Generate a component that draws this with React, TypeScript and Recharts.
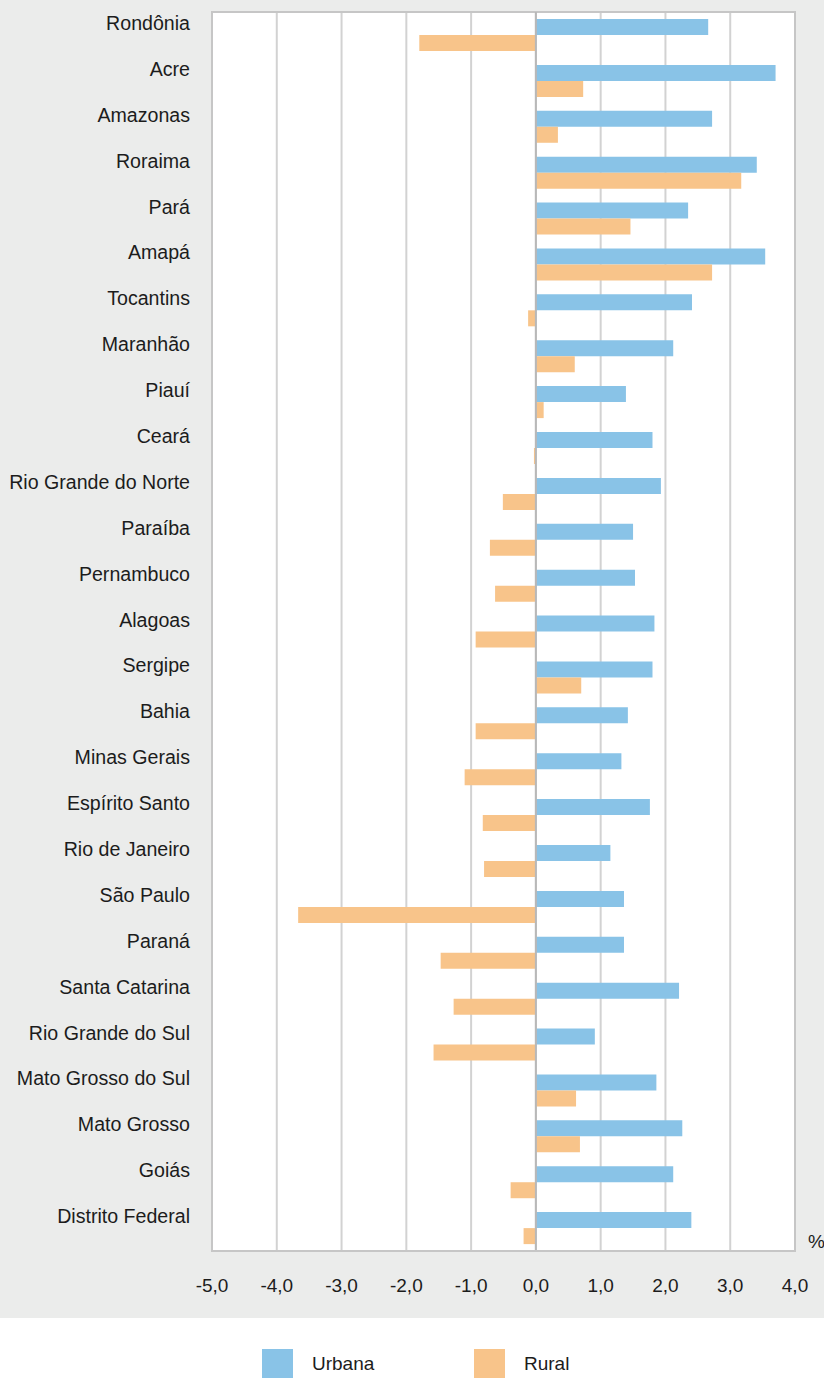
import { BarChart, Bar, XAxis, YAxis, CartesianGrid, ReferenceLine, ReferenceArea, Label } from "recharts";

const estados = [
  "Rondônia", "Acre", "Amazonas", "Roraima", "Pará", "Amapá", "Tocantins",
  "Maranhão", "Piauí", "Ceará", "Rio Grande do Norte", "Paraíba", "Pernambuco",
  "Alagoas", "Sergipe", "Bahia", "Minas Gerais", "Espírito Santo", "Rio de Janeiro",
  "São Paulo", "Paraná", "Santa Catarina", "Rio Grande do Sul", "Mato Grosso do Sul",
  "Mato Grosso", "Goiás", "Distrito Federal"
];

const urbana = [
  2.66, 3.70, 2.72, 3.41, 2.35, 3.54, 2.41, 2.12, 1.39, 1.80, 1.93, 1.50, 1.53,
  1.83, 1.80, 1.42, 1.32, 1.76, 1.15, 1.36, 1.36, 2.21, 0.91, 1.86, 2.26, 2.12, 2.40
];

const rural = [
  -1.80, 0.73, 0.34, 3.17, 1.46, 2.72, -0.12, 0.60, 0.12, -0.03, -0.51, -0.71, -0.63,
  -0.93, 0.70, -0.93, -1.10, -0.82, -0.80, -3.67, -1.47, -1.27, -1.58, 0.62, 0.68, -0.39, -0.19
];

const xTicks = [-5, -4, -3, -2, -1, 0, 1, 2, 3, 4];

const series = [
  { key: "urbana", name: "Urbana", color: "#89c3e7" },
  { key: "rural", name: "Rural", color: "#f8c48a" }
];

const data = estados.map((name, i) => ({ name, urbana: urbana[i], rural: rural[i] }));

const font = "'Liberation Sans', Arial, sans-serif";
const textColor = "#1c1c1c";

function StateTick({ x, y, payload }: any) {
  return (
    <text x={x} y={y - 5} textAnchor="end" fontSize={19.6} fontFamily={font} fill={textColor}>
      {payload.value}
    </text>
  );
}

export default function App() {
  return (
    <div style={{ position: "absolute", left: 0, top: 0, width: 824, height: 1378, background: "#fff", fontFamily: font }}>
      <div style={{ background: "#ebeceb", width: 824, height: 1318 }}>
        <BarChart
          layout="vertical"
          width={824}
          height={1318}
          data={data}
          margin={{ top: 12, right: 29, bottom: 0, left: 0 }}
          barGap={0}
          barSize={16}
        >
          <CartesianGrid horizontal={false} vertical stroke="#d2d2d2" strokeWidth={2} fill="#fff" />
          <XAxis
            type="number"
            domain={[-5, 4]}
            ticks={xTicks}
            tickFormatter={(v: number) => v.toFixed(1).replace(".", ",")}
            tickLine={false}
            tickSize={0}
            tickMargin={28}
            axisLine={{ stroke: "#c6c6c6", strokeWidth: 2 }}
            height={67}
            tick={{ fontSize: 19, fontFamily: font, fill: textColor }}
          >
            <Label
              content={(props: any) => {
                const vb = props.viewBox;
                return (
                  <text x={vb.x + vb.width + 13} y={vb.y - 3} fontSize={19} fontFamily={font} fill={textColor}>
                    %
                  </text>
                );
              }}
            />
          </XAxis>
          <YAxis
            type="category"
            dataKey="name"
            width={212}
            axisLine={false}
            tickLine={false}
            tickSize={0}
            tickMargin={22}
            interval={0}
            tick={<StateTick />}
          />
          <ReferenceArea x1={-5} x2={4} fill="none" stroke="#c6c6c6" strokeWidth={2} />
          {series.map((s) => (
            <Bar key={s.key} dataKey={s.key} name={s.name} fill={s.color} isAnimationActive={false} />
          ))}
          <ReferenceLine x={0} stroke="#b8b8b8" strokeWidth={2} />
        </BarChart>
      </div>
      <div style={{ position: "relative", height: 60 }}>
        {series.map((s, i) => (
          <div key={s.key} style={{ position: "absolute", left: 262 + i * 212, top: 31, display: "flex", alignItems: "center" }}>
            <div style={{ width: 31, height: 30, background: s.color }} />
            <span style={{ marginLeft: 19, fontSize: 19, color: textColor }}>{s.name}</span>
          </div>
        ))}
      </div>
    </div>
  );
}
